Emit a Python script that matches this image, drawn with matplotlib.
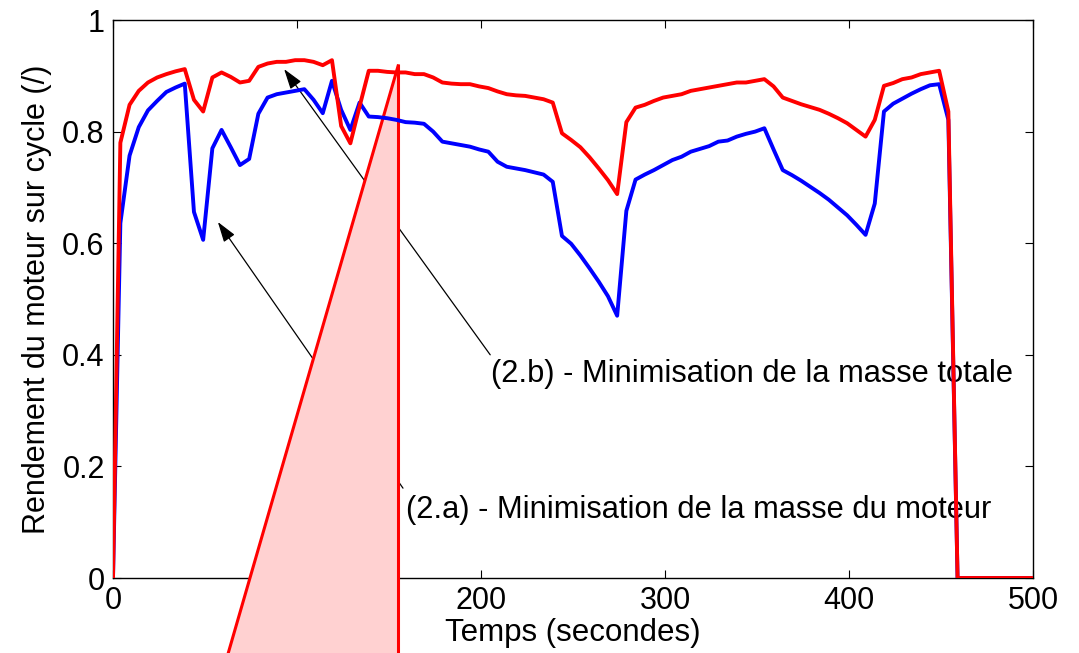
import matplotlib
matplotlib.use('Agg')
import matplotlib.pyplot as plt
from matplotlib.patches import Polygon

plt.rcParams['font.family'] = ['Liberation Sans', 'DejaVu Sans']

# Temps (s) des points des deux courbes
temps = [0, 4, 9, 14, 19, 24, 29, 34, 39, 44, 49, 54, 59, 64, 69, 74, 79, 84, 89, 94,
         99, 104, 109, 114, 119, 124, 129, 134, 139, 144, 149, 154, 159, 164, 169, 174,
         179, 184, 189, 194, 199, 204, 209, 214, 219, 224, 229, 234, 239, 244, 249, 254,
         259, 264, 269, 274, 279, 284, 289, 294, 299, 304, 309, 314, 319, 324, 329, 334,
         339, 344, 349, 354, 359, 364, 369, 374, 379, 384, 389, 394, 399, 404, 409, 414,
         419, 424, 429, 434, 439, 444, 449, 454, 459, 500]

# (2.a) - Minimisation de la masse du moteur
rend_moteur = [0, 0.636, 0.757, 0.808, 0.838, 0.855, 0.871, 0.879, 0.886, 0.656,
               0.606, 0.770, 0.803, 0.772, 0.740, 0.751, 0.832, 0.861, 0.867, 0.870,
               0.873, 0.876, 0.857, 0.833, 0.891, 0.839, 0.803, 0.852, 0.827, 0.826,
               0.824, 0.821, 0.817, 0.816, 0.814, 0.800, 0.782, 0.779, 0.776, 0.773,
               0.768, 0.764, 0.746, 0.737, 0.734, 0.731, 0.727, 0.723, 0.710, 0.613,
               0.599, 0.578, 0.555, 0.531, 0.505, 0.470, 0.658, 0.714, 0.723, 0.731,
               0.740, 0.749, 0.755, 0.764, 0.769, 0.774, 0.782, 0.784, 0.791, 0.796,
               0.800, 0.806, 0.768, 0.731, 0.722, 0.712, 0.701, 0.690, 0.678, 0.664,
               0.650, 0.633, 0.615, 0.671, 0.836, 0.850, 0.859, 0.868, 0.876, 0.883,
               0.885, 0.821, 0, 0]

# (2.b) - Minimisation de la masse totale
rend_total = [0, 0.780, 0.848, 0.873, 0.888, 0.897, 0.903, 0.908, 0.912, 0.857,
              0.836, 0.897, 0.906, 0.898, 0.888, 0.891, 0.916, 0.922, 0.925, 0.925,
              0.928, 0.928, 0.925, 0.919, 0.928, 0.810, 0.779, 0.845, 0.909, 0.909,
              0.907, 0.906, 0.906, 0.903, 0.903, 0.897, 0.888, 0.886, 0.885, 0.885,
              0.881, 0.878, 0.872, 0.867, 0.865, 0.864, 0.861, 0.858, 0.852, 0.797,
              0.785, 0.772, 0.754, 0.734, 0.713, 0.688, 0.817, 0.843, 0.848, 0.855,
              0.861, 0.864, 0.867, 0.873, 0.876, 0.879, 0.882, 0.885, 0.888, 0.888,
              0.891, 0.894, 0.881, 0.861, 0.855, 0.849, 0.844, 0.839, 0.832, 0.824,
              0.815, 0.803, 0.791, 0.821, 0.882, 0.887, 0.894, 0.897, 0.903, 0.906,
              0.909, 0.836, 0, 0]

# triangle rose qui deborde de la figure
patch_x = [155, 155, 48]
patch_y = [0.921, -0.3, -0.3]

# fleches : (pointe x, pointe y, queue x, queue y) et textes
label_a = '(2.a) - Minimisation de la masse du moteur'
label_b = '(2.b) - Minimisation de la masse totale'
arrow_a = (57, 0.638, 157.6, 0.161)
arrow_b = (93, 0.912, 205, 0.400)

fig = plt.figure(figsize=(10.79, 6.53), dpi=100)
ax = fig.add_axes([113 / 1079, 75 / 653, 920 / 1079, 558 / 653])

ax.plot(temps, rend_moteur, color=(0, 0, 1), lw=2.8, zorder=4)
ax.plot(temps, rend_total, color=(1, 0, 0), lw=2.8, zorder=5)

ax.add_patch(Polygon(list(zip(patch_x, patch_y)), closed=True, facecolor=(1, 0.82, 0.82),
                     edgecolor=(1, 0, 0), lw=2.2, clip_on=False, zorder=3))

for (tx, ty, qx, qy) in [arrow_a, arrow_b]:
    ax.annotate('', xy=(tx, ty), xytext=(qx, qy), zorder=2,
                arrowprops=dict(arrowstyle='-|>,head_length=0.62,head_width=0.2',
                                color='black', lw=0.9, shrinkA=0, shrinkB=0,
                                mutation_scale=20))
ax.text(159.5, 0.122, label_a, fontsize=22.2, va='center', ha='left', zorder=2)
ax.text(205.5, 0.366, label_b, fontsize=22.2, va='center', ha='left', zorder=2)

ax.set_xlim(0, 500)
ax.set_ylim(0, 1)
ax.set_xticks([0, 100, 200, 300, 400, 500])
ax.set_yticks([0, 0.2, 0.4, 0.6, 0.8, 1])
ax.set_yticklabels(['0', '0.2', '0.4', '0.6', '0.8', '1'])
ax.tick_params(direction='in', length=6, width=0.8, top=True, right=True,
               labelsize=22, pad=6)
for s in ax.spines.values():
    s.set_linewidth(1.0)

ax.set_xlabel('Temps (secondes)', fontsize=22.5, labelpad=1)
ax.set_ylabel('Rendement du moteur sur cycle (/)', fontsize=22, labelpad=7)

fig.savefig('out.png', dpi=100)
